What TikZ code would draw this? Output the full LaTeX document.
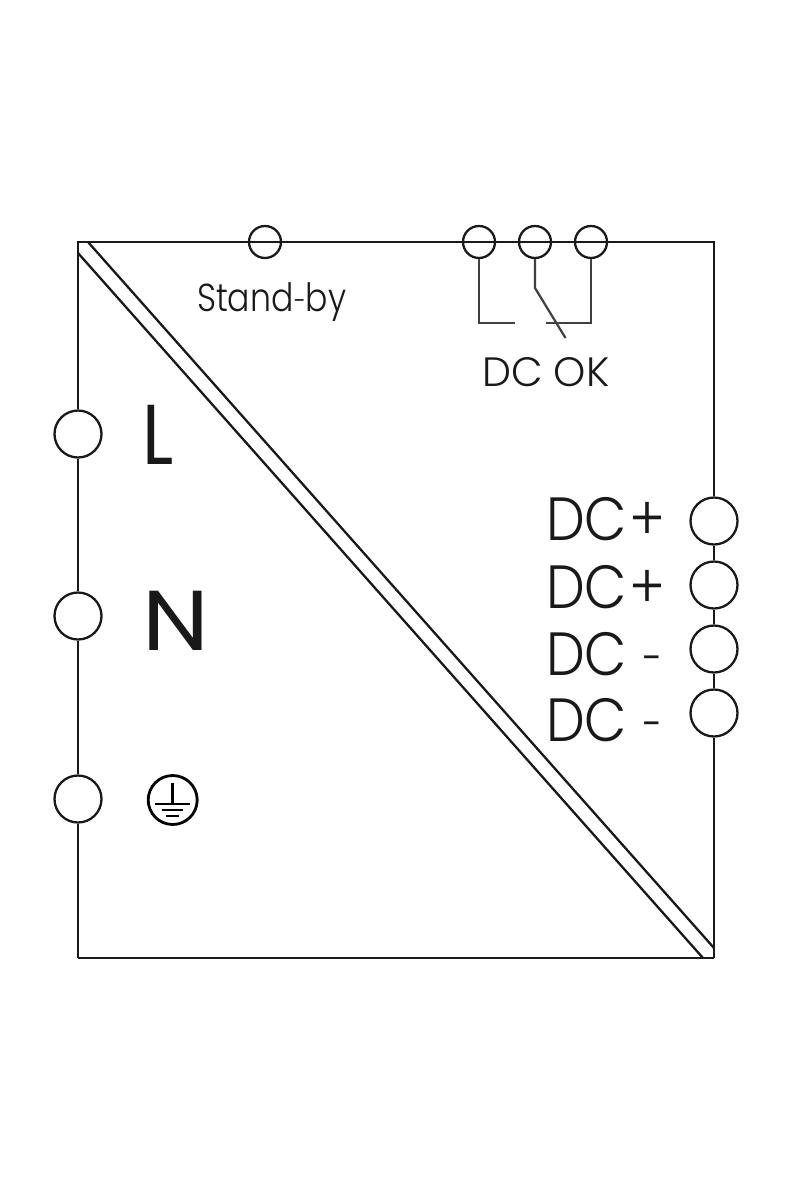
\documentclass[tikz,border=0pt]{standalone}
\usepackage{fontspec}
\setmainfont{Poppins Light}
\newfontfamily\fdc[FakeStretch=0.9]{Poppins Light}
\newfontfamily\fsb[FakeStretch=0.85]{Poppins Light}
\newfontfamily\fl[FakeStretch=0.85]{Poppins}
\newfontfamily\fn[FakeStretch=1.12]{Poppins}
\newfontfamily\freg{Poppins}
\newcommand{\minihy}[2]{\raisebox{#2}{\fontsize{#1}{#1}\selectfont\freg -}}
\begin{document}
\begin{tikzpicture}[x=1pt,y=-1pt,
  wire/.style={draw=black!90,line width=2.3pt,line join=miter},
  relay/.style={draw=black!75,line width=2.2pt},
  small/.style={circle,draw=black!90,line width=2.3pt,fill=white,minimum size=32pt,inner sep=0pt},
  large/.style={circle,draw=black!90,line width=2.3pt,fill=white,minimum size=47pt,inner sep=0pt},
  lbl/.style={anchor=base west,inner sep=0pt,text=black!90},
  sbl/.style={lbl,font=\fontsize{39}{39}\selectfont\fsb},
  okl/.style={lbl,font=\fontsize{41}{41}\selectfont},
  bg/.style={lbl,font=\fontsize{61}{61}\selectfont\fdc},
  hl/.style={lbl,font=\fontsize{85}{85}\selectfont\fl},
  hn/.style={lbl,font=\fontsize{85}{85}\selectfont\fn},
  gndbar/.style={line width=2.5pt}]
\useasboundingbox[fill=white] (0,0) rectangle (800,1200);
\coordinate (tl) at (78,242); \coordinate (tr) at (714,242);
\coordinate (bl) at (78,958); \coordinate (br) at (714,958);
\coordinate (d1a) at (88,242); \coordinate (d1b) at (714,948);
\coordinate (d2a) at (78,253); \coordinate (d2b) at (703,958);
\node[small] (sb) at (265,242) {};
\node[small] (k1) at (479,242) {};
\node[small] (k2) at (535,242) {};
\node[small] (k3) at (591,242) {};
\node[large] (L) at (78,434) {};
\node[large] (N) at (78,616) {};
\node[large] (PE) at (78,799) {};
\node[large] (p1) at (714,521) {};
\node[large] (p2) at (714,585) {};
\node[large] (m1) at (714,649) {};
\node[large] (m2) at (714,713) {};
\draw[wire] (tl) -- (sb); \draw[wire] (sb) -- (k1); \draw[wire] (k1) -- (k2);
\draw[wire] (k2) -- (k3); \draw[wire] (k3) -- (tr); \draw[wire] (tr) -- (p1);
\draw[wire] (p1) -- (p2); \draw[wire] (p2) -- (m1); \draw[wire] (m1) -- (m2);
\draw[wire] (m2) -- (br); \draw[wire] (br) -- (bl); \draw[wire] (bl) -- (PE);
\draw[wire] (PE) -- (N); \draw[wire] (N) -- (L); \draw[wire] (L) -- (tl);
\draw[wire,line cap=rect] (tl) -- (tr);
\draw[wire] (d1a) -- (d1b);
\draw[wire] (d2a) -- (d2b);
\coordinate (r1a) at (479,323); \coordinate (r1b) at (515,323);
\coordinate (r2a) at (535,288); \coordinate (r2b) at (565.5,338);
\coordinate (r3a) at (591,323); \coordinate (r3b) at (546,323);
\draw[relay] (k1) -- (r1a) -- (r1b);
\draw[relay] (k2) -- (r2a) -- (r2b);
\draw[relay] (k3) -- (r3a) -- (r3b);
\node[sbl] (tsb) at (197,311) {Stand\minihy{22}{3pt}by};
\node[okl] (tok) at (482,386) {DC OK};
\node[hl] (tL) at (142,464) {L};
\node[hn] (tN) at (142,650) {N};
\node[bg] (t1) at (546,540) {DC\kern2pt+};
\node[bg] (t2) at (546,608) {DC\kern2pt+};
\node[bg] (t3) at (546,675) {DC \minihy{36}{5pt}};
\node[bg] (t4) at (546,741) {DC \minihy{36}{5pt}};
\node[circle,draw=black,line width=2.8pt,minimum size=49pt,inner sep=0pt] (gnd) at (172.7,800) {};
\coordinate (g0) at (172.7,783); \coordinate (g1) at (172.7,804);
\draw[gndbar] (g0) -- (g1);
\coordinate (ga) at (155,804); \coordinate (gb) at (190,804);
\coordinate (gc) at (162,810); \coordinate (gd) at (183,810);
\coordinate (ge) at (166,816); \coordinate (gf) at (179,816);
\draw[gndbar] (ga) -- (gb);
\draw[gndbar] (gc) -- (gd);
\draw[gndbar] (ge) -- (gf);
\end{tikzpicture}
\end{document}
